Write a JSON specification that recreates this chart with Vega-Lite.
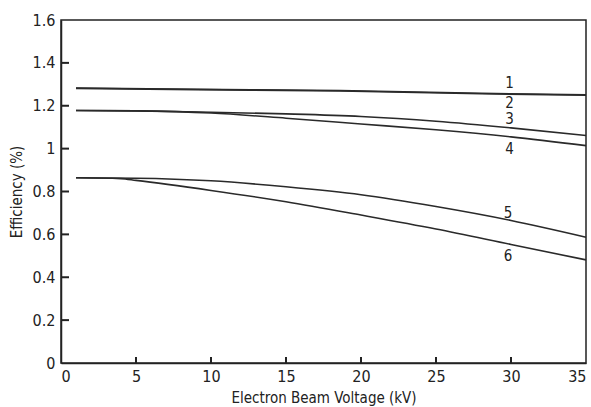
{
  "$schema": "https://vega.github.io/schema/vega-lite/v6.json",
  "width": 525,
  "height": 343,
  "autosize": {"type": "none"},
  "padding": {"left": 61, "top": 20, "right": 5, "bottom": 44},
  "background": "white",
  "config": {
    "font": "'Liberation Sans Narrow', 'DejaVu Sans Condensed', sans-serif",
    "view": {"stroke": "#222", "strokeWidth": 1.5},
    "axis": {
      "grid": false,
      "domainColor": "#222",
      "domainWidth": 1.5,
      "ticks": false,
      "labelColor": "#222",
      "titleColor": "#222",
      "labelFontSize": 16,
      "titleFontSize": 15,
      "titleFontWeight": "normal"
    }
  },
  "datasets": {
    "curves": [
      {"s": "1", "x": 1, "y": 1.283}, {"s": "1", "x": 9, "y": 1.277}, {"s": "1", "x": 18.6, "y": 1.271}, {"s": "1", "x": 28, "y": 1.258}, {"s": "1", "x": 35, "y": 1.251},
      {"s": "2", "x": 1, "y": 1.281}, {"s": "2", "x": 9, "y": 1.275}, {"s": "2", "x": 18.6, "y": 1.269}, {"s": "2", "x": 28, "y": 1.256}, {"s": "2", "x": 35, "y": 1.249},
      {"s": "3", "x": 1, "y": 1.178}, {"s": "3", "x": 5, "y": 1.176}, {"s": "3", "x": 10, "y": 1.170}, {"s": "3", "x": 15, "y": 1.162}, {"s": "3", "x": 20, "y": 1.150}, {"s": "3", "x": 25, "y": 1.128}, {"s": "3", "x": 30, "y": 1.097}, {"s": "3", "x": 35, "y": 1.061},
      {"s": "4", "x": 1, "y": 1.178}, {"s": "4", "x": 5, "y": 1.176}, {"s": "4", "x": 10, "y": 1.166}, {"s": "4", "x": 15, "y": 1.142}, {"s": "4", "x": 20, "y": 1.115}, {"s": "4", "x": 25, "y": 1.088}, {"s": "4", "x": 30, "y": 1.055}, {"s": "4", "x": 35, "y": 1.014},
      {"s": "5", "x": 1, "y": 0.864}, {"s": "5", "x": 5, "y": 0.862}, {"s": "5", "x": 10, "y": 0.850}, {"s": "5", "x": 15, "y": 0.822}, {"s": "5", "x": 20, "y": 0.785}, {"s": "5", "x": 25, "y": 0.730}, {"s": "5", "x": 30, "y": 0.665}, {"s": "5", "x": 35, "y": 0.587},
      {"s": "6", "x": 1, "y": 0.864}, {"s": "6", "x": 4, "y": 0.860}, {"s": "6", "x": 5, "y": 0.852}, {"s": "6", "x": 10, "y": 0.805}, {"s": "6", "x": 15, "y": 0.752}, {"s": "6", "x": 20, "y": 0.690}, {"s": "6", "x": 25, "y": 0.625}, {"s": "6", "x": 30, "y": 0.553}, {"s": "6", "x": 35, "y": 0.481}
    ],
    "labels": [
      {"t": "1", "x": 29.9, "y": 1.308},
      {"t": "2", "x": 29.9, "y": 1.212},
      {"t": "3", "x": 29.9, "y": 1.136},
      {"t": "4", "x": 29.9, "y": 0.996},
      {"t": "5", "x": 29.8, "y": 0.699},
      {"t": "6", "x": 29.8, "y": 0.501}
    ],
    "yticks": [{"v": 0.2}, {"v": 0.4}, {"v": 0.6}, {"v": 0.8}, {"v": 1.0}, {"v": 1.2}, {"v": 1.4}],
    "xticks": [{"v": 5}, {"v": 10}, {"v": 15}, {"v": 20}, {"v": 25}, {"v": 30}]
  },
  "layer": [
    {
      "data": {"name": "curves"},
      "mark": {"type": "line", "interpolate": "monotone", "strokeWidth": 1.6, "color": "#2a2a2a"},
      "encoding": {
        "x": {
          "field": "x", "type": "quantitative",
          "scale": {"domain": [0, 35], "nice": false},
          "axis": {"values": [0, 5, 10, 15, 20, 25, 30, 35], "labelPadding": 5, "title": "Electron Beam Voltage (kV)", "titlePadding": 6}
        },
        "y": {
          "field": "y", "type": "quantitative",
          "scale": {"domain": [0, 1.6], "nice": false},
          "axis": {"values": [0, 0.2, 0.4, 0.6, 0.8, 1, 1.2, 1.4, 1.6], "format": "~g", "labelPadding": 6, "title": "Efficiency (%)", "titlePadding": 8}
        },
        "detail": {"field": "s", "type": "nominal"}
      }
    },
    {
      "data": {"name": "yticks"},
      "mark": {"type": "tick", "orient": "horizontal", "color": "#222", "opacity": 1, "thickness": 2, "size": 8, "xOffset": 4},
      "encoding": {
        "y": {"field": "v", "type": "quantitative"},
        "x": {"datum": 0, "type": "quantitative"}
      }
    },
    {
      "data": {"name": "xticks"},
      "mark": {"type": "tick", "orient": "vertical", "color": "#222", "opacity": 1, "thickness": 2, "size": 6, "yOffset": -3},
      "encoding": {
        "x": {"field": "v", "type": "quantitative"},
        "y": {"datum": 0, "type": "quantitative"}
      }
    },
    {
      "data": {"name": "labels"},
      "mark": {"type": "text", "fontSize": 15, "color": "#222", "baseline": "middle", "align": "center"},
      "encoding": {
        "x": {"field": "x", "type": "quantitative"},
        "y": {"field": "y", "type": "quantitative"},
        "text": {"field": "t", "type": "nominal"}
      }
    }
  ]
}
